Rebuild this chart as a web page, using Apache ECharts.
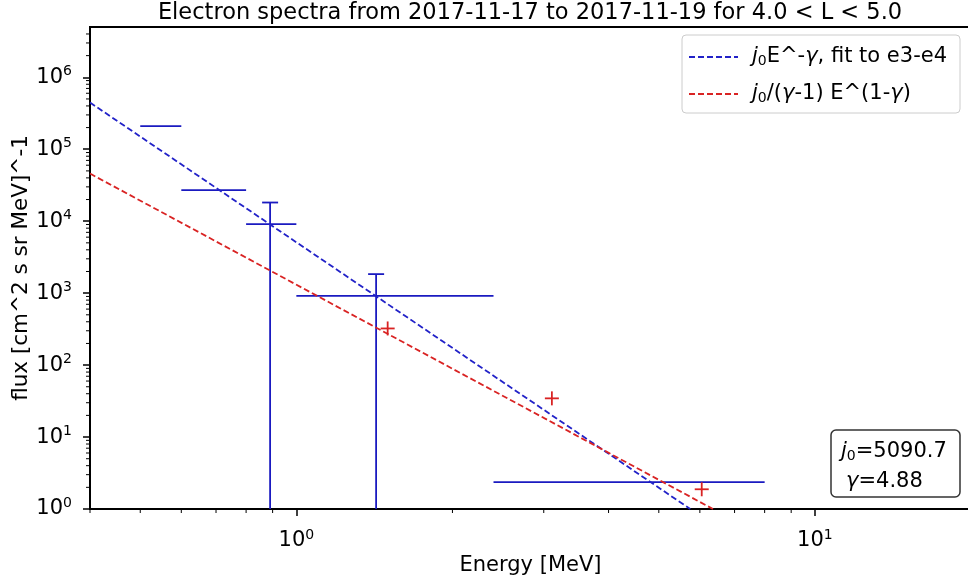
<!DOCTYPE html>
<html><head><meta charset="utf-8">
<script src="https://cdn.jsdelivr.net/npm/echarts@6/dist/echarts.min.js"></script>
<style>html,body{margin:0;padding:0;background:#fff}#c{width:968px;height:581px}</style>
</head><body><div id="c"></div>
<script>
// ---------- data ----------
const titleText = 'Electron spectra from 2017-11-17 to 2017-11-19 for 4.0 < L < 5.0';
const xAxisName = 'Energy [MeV]';
const yAxisName = 'flux [cm^2 s sr MeV]^-1';
const xMin = 0.4, xMax = 20, yMin = 1, yMax = 5e6;
const xMajorTicks = [1, 10];
const yMajorTicks = [1, 10, 100, 1000, 10000, 100000, 1000000];
const xMinorTicks = [0.4, 0.5, 0.6, 0.7, 0.8, 0.9, 2, 3, 4, 5, 6, 7, 8, 9];
const minorMult = [2, 3, 4, 5, 6, 7, 8, 9];
const yMinorDecades = [1, 10, 100, 1000, 10000, 100000, 1000000];

// energy channels (blue): lower edge, upper edge, centre, flux, error
const chanLo   = [0.5, 0.6, 0.8, 1.0, 2.4];
const chanHi   = [0.6, 0.8, 1.0, 2.4, 8.0];
const chanE    = [0.55, 0.69, 0.89, 1.425, 4.4];
const chanFlux = [2.09e5, 2.7e4, 9.08e3, 918, 2.37];
const chanErr  = [0, 0, 9100, 920, 0];

// red "+" points
const intE    = [1.5, 3.11, 6.05];
const intFlux = [323, 34.5, 1.88];

// fitted lines (straight in log-log): end points
const fit1E = [0.4, 5.75],  fit1Flux = [4.46e5, 1];
const fit2E = [0.4, 6.36],  fit2Flux = [4.59e4, 1];
const fitJ0 = '5090.7', fitGamma = '4.88';

// ---------- build ----------
const FONT = 'DejaVu Sans';
const BLUE = '#1a1ac0', BLUE_D = '#2222c8', RED = '#d92323';
const yMinorTicks = [];
yMinorDecades.forEach(d => minorMult.forEach(m => { if (d * m < yMax) yMinorTicks.push(d * m); }));

const supFmt = v => '{b|10}{s|' + Math.round(Math.log10(v)) + '}';
const supRich = {
  b: {fontSize: 21, fontFamily: FONT, color: '#000'},
  s: {fontSize: 14, fontFamily: FONT, color: '#000', padding: [0, 0, 12, 0]}
};
const legRich = {
  n: {fontSize: 21, fontFamily: FONT, fill: '#000'},
  i: {fontSize: 21, fontFamily: FONT, fontStyle: 'italic', fill: '#000'},
  sub: {fontSize: 14, fontFamily: FONT, fill: '#000', padding: [9, 0, 0, 0]}
};

const chart = echarts.init(document.getElementById('c'), null, {renderer: 'canvas'});

const chanData = chanLo.map((lo, i) => [lo, chanHi[i], chanFlux[i], chanErr[i], chanE[i]]);
const intData = intE.map((e, i) => [e, intFlux[i]]);

chart.setOption({
  animation: false,
  backgroundColor: '#fff',
  grid: {left: 90, top: 27, right: -3, bottom: 72, show: true, borderColor: '#000', borderWidth: 2,
         containLabel: false, outerBoundsMode: 'none'},
  xAxis: {
    type: 'log', logBase: 10, min: xMin, max: xMax,
    name: xAxisName, nameLocation: 'middle', nameGap: 46, nameMoveOverlap: false,
    nameTextStyle: {fontSize: 21, fontFamily: FONT, color: '#000'},
    axisLine: {show: true, lineStyle: {color: '#000', width: 2}},
    axisTick: {show: true, length: 7, lineStyle: {color: '#000', width: 1.5}, customValues: xMajorTicks},
    axisLabel: {show: true, margin: 19, formatter: supFmt, rich: supRich, customValues: xMajorTicks},
    splitLine: {show: false}, minorTick: {show: false}
  },
  yAxis: {
    type: 'log', logBase: 10, min: yMin, max: yMax,
    name: yAxisName, nameLocation: 'middle', nameGap: 58, nameRotate: 90, nameMoveOverlap: false,
    nameTextStyle: {fontSize: 21.5, fontFamily: FONT, color: '#000'},
    axisLine: {show: true, lineStyle: {color: '#000', width: 2}},
    axisTick: {show: true, length: 7, lineStyle: {color: '#000', width: 1.5}, customValues: yMajorTicks},
    axisLabel: {show: true, margin: 18, formatter: supFmt, rich: supRich, customValues: yMajorTicks},
    splitLine: {show: false}, minorTick: {show: false}
  },
  series: [
    { // minor ticks x
      type: 'custom', silent: true, clip: false,
      data: xMinorTicks.map(v => [v, yMin]),
      renderItem: (params, api) => {
        const p = api.coord([api.value(0), api.value(1)]);
        return {type: 'line', shape: {x1: p[0], y1: p[1], x2: p[0], y2: p[1] + 4}, style: {stroke: '#000', lineWidth: 1}};
      }
    },
    { // minor ticks y
      type: 'custom', silent: true, clip: false,
      data: yMinorTicks.map(v => [xMin, v]),
      renderItem: (params, api) => {
        const p = api.coord([api.value(0), api.value(1)]);
        return {type: 'line', shape: {x1: p[0] - 4, y1: p[1], x2: p[0], y2: p[1]}, style: {stroke: '#000', lineWidth: 1}};
      }
    },
    { // fit 1
      type: 'line', name: 'fit1', data: fit1E.map((e, i) => [e, fit1Flux[i]]),
      showSymbol: false, symbol: 'none', clip: true,
      lineStyle: {color: BLUE_D, width: 1.8, type: [6, 3]}
    },
    { // fit 2
      type: 'line', name: 'fit2', data: fit2E.map((e, i) => [e, fit2Flux[i]]),
      showSymbol: false, symbol: 'none', clip: true,
      lineStyle: {color: RED, width: 1.8, type: [6, 3]}
    },
    { // channels with error bars
      type: 'custom', clip: true, data: chanData,
      renderItem: (params, api) => {
        const lo = api.value(0), hi = api.value(1), f = api.value(2), err = api.value(3), e = api.value(4);
        const a = api.coord([lo, f]), b = api.coord([hi, f]);
        const children = [{type: 'line', shape: {x1: a[0], y1: a[1], x2: b[0], y2: b[1]}, style: {stroke: BLUE, lineWidth: 1.8}}];
        if (err > 0) {
          const top = api.coord([e, f + err]);
          const bot = api.coord([e, Math.max(f - err, yMin)]);
          children.push({type: 'line', shape: {x1: top[0], y1: top[1], x2: bot[0], y2: bot[1]}, style: {stroke: BLUE, lineWidth: 1.8}});
          children.push({type: 'line', shape: {x1: top[0] - 8, y1: top[1], x2: top[0] + 8, y2: top[1]}, style: {stroke: BLUE, lineWidth: 1.8}});
        }
        return {type: 'group', children};
      }
    },
    { // red plus markers
      type: 'custom', clip: true, data: intData,
      renderItem: (params, api) => {
        const p = api.coord([api.value(0), api.value(1)]);
        const h = 7;
        return {type: 'group', children: [
          {type: 'line', shape: {x1: p[0] - h, y1: p[1], x2: p[0] + h, y2: p[1]}, style: {stroke: RED, lineWidth: 1.8}},
          {type: 'line', shape: {x1: p[0], y1: p[1] - h, x2: p[0], y2: p[1] + h}, style: {stroke: RED, lineWidth: 1.8}}
        ]};
      }
    }
  ],
  graphic: [
    {type: 'text', x: 530, y: 13, style: {text: titleText, x: 0, y: 0, align: 'center', verticalAlign: 'middle', fontSize: 22.5, fontFamily: FONT, fill: '#000'}},
    // legend box
    {type: 'rect', x: 682, y: 35, shape: {x: 0, y: 0, width: 278, height: 78, r: 4}, style: {fill: 'rgba(255,255,255,0.85)', stroke: '#cccccc', lineWidth: 1}, z: 50},
    {type: 'line', shape: {x1: 689, y1: 57, x2: 738, y2: 57}, style: {stroke: BLUE_D, lineWidth: 1.8, lineDash: [6, 3]}, z: 51},
    {type: 'line', shape: {x1: 689, y1: 94, x2: 738, y2: 94}, style: {stroke: RED, lineWidth: 1.8, lineDash: [6, 3]}, z: 51},
    {type: 'text', x: 752, y: 57, z: 51, style: {
      text: '{i|j}{sub|0}{n|E^-}{i|γ}{n|, fit to e3-e4}', verticalAlign: 'middle', align: 'left', rich: legRich}},
    {type: 'text', x: 752, y: 94, z: 51, style: {
      text: '{i|j}{sub|0}{n|/(}{i|γ}{n|-1) E^(1-}{i|γ}{n|)}', verticalAlign: 'middle', align: 'left', rich: legRich}},
    // parameter box
    {type: 'rect', x: 831, y: 430, shape: {x: 0, y: 0, width: 129, height: 67, r: 5}, style: {fill: '#fff', stroke: '#333', lineWidth: 1.5}, z: 50},
    {type: 'text', x: 841, y: 452, z: 51, style: {
      text: '{i|j}{sub|0}{n|=' + fitJ0 + '}', verticalAlign: 'middle', align: 'left', rich: legRich}},
    {type: 'text', x: 846, y: 482, z: 51, style: {
      text: '{i|γ}{n|=' + fitGamma + '}', verticalAlign: 'middle', align: 'left', rich: legRich}}
  ]
});
</script>
</body></html>
